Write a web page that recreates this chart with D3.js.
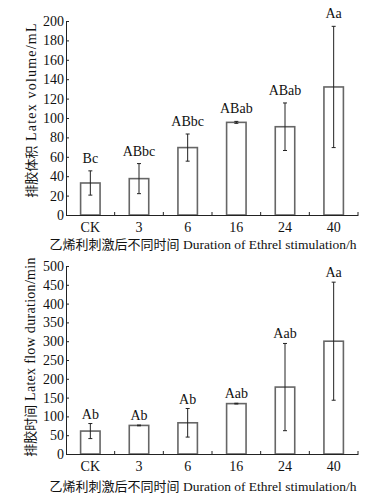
<!DOCTYPE html>
<html>
<head>
<meta charset="utf-8">
<script src="https://cdn.jsdelivr.net/npm/d3@7"></script>
<style>
  body { margin: 0; background: #fff; }
  text { font-family: "Liberation Serif", "Times New Roman", serif; }
  .cjk { font-family: "Noto Sans CJK SC", sans-serif; }
</style>
</head>
<body>
<div id="chart"></div>
<script>
const categories = ["CK", "3", "6", "16", "24", "40"];

// latex volume (mL)
const volumeMean = [33, 37.5, 69.5, 95.5, 91, 132];
const volumeErr = [12.5, 15.5, 14, 1, 24.5, 62.5];
const volumeLetters = ["Bc", "ABbc", "ABbc", "ABab", "ABab", "Aa"];
const volumeTicks = [0, 20, 40, 60, 80, 100, 120, 140, 160, 180, 200];

// latex flow duration (min)
const durationMean = [61, 76, 83, 134, 178, 300];
const durationErr = [20, 1, 38, 1, 116, 157];
const durationLetters = ["Ab", "Ab", "Ab", "Aab", "Aab", "Aa"];
const durationTicks = [0, 50, 100, 150, 200, 250, 300, 350, 400, 450, 500];

const width = 383;
const height = 503;

const svg = d3.select("#chart")
  .append("svg")
  .attr("width", width)
  .attr("height", height);

function drawPanel(opts) {
  const left = 66, right = 358;
  const g = svg.append("g");

  const x = d3.scaleBand()
    .domain(categories)
    .range([left, right])
    .paddingInner(0.6)
    .paddingOuter(0.3);

  const y = d3.scaleLinear()
    .domain([0, opts.max])
    .range([opts.bottom, opts.top]);

  // bars
  g.selectAll("rect.bar")
    .data(opts.mean)
    .join("rect")
    .attr("class", "bar")
    .attr("x", (d, i) => x(categories[i]))
    .attr("y", d => y(d))
    .attr("width", x.bandwidth())
    .attr("height", d => y(0) - y(d))
    .attr("fill", "#fff")
    .attr("stroke", "#666")
    .attr("stroke-width", 1.6);

  // error bars
  const eb = g.selectAll("g.err")
    .data(opts.mean)
    .join("g")
    .attr("class", "err");
  eb.append("line")
    .attr("x1", (d, i) => x(categories[i]) + x.bandwidth() / 2)
    .attr("x2", (d, i) => x(categories[i]) + x.bandwidth() / 2)
    .attr("y1", (d, i) => y(d - opts.err[i]))
    .attr("y2", (d, i) => y(d + opts.err[i]))
    .attr("stroke", "#222")
    .attr("stroke-width", 1);
  [-1, 1].forEach(s => {
    eb.append("line")
      .attr("x1", (d, i) => x(categories[i]) + x.bandwidth() / 2 - 2)
      .attr("x2", (d, i) => x(categories[i]) + x.bandwidth() / 2 + 2)
      .attr("y1", (d, i) => y(d + s * opts.err[i]))
      .attr("y2", (d, i) => y(d + s * opts.err[i]))
      .attr("stroke", "#222")
      .attr("stroke-width", 1);
  });

  // significance letters
  g.selectAll("text.sig")
    .data(opts.mean)
    .join("text")
    .attr("class", "sig")
    .attr("x", (d, i) => x(categories[i]) + x.bandwidth() / 2)
    .attr("y", (d, i) => y(d + opts.err[i]) - opts.gap)
    .attr("text-anchor", "middle")
    .attr("font-size", 14)
    .attr("fill", "#111")
    .text((d, i) => opts.letters[i]);

  // y axis
  const yAxis = g.append("g")
    .attr("transform", `translate(${left},0)`)
    .call(d3.axisLeft(y).tickValues(opts.ticks).tickSize(-3).tickPadding(2));
  yAxis.select(".domain").attr("stroke", "#222");
  yAxis.selectAll(".tick line").attr("stroke", "#222");
  yAxis.selectAll("text").attr("font-size", 14).attr("fill", "#111")
    .style("font-family", "Liberation Serif");

  // x axis
  const xAxis = g.append("g")
    .attr("transform", `translate(0,${opts.bottom})`)
    .call(d3.axisBottom(x).tickSize(0).tickPadding(7).tickSizeOuter(0));
  xAxis.select(".domain").attr("stroke", "#222");
  xAxis.selectAll("text").attr("font-size", 14).attr("fill", "#111")
    .style("font-family", "Liberation Serif");

  // small ticks between categories
  const step = x.step();
  const bounds = categories.map((c, i) => x(c) + x.bandwidth() / 2 + step / 2);
  g.selectAll("line.sep")
    .data(bounds)
    .join("line")
    .attr("class", "sep")
    .attr("x1", d => d).attr("x2", d => d)
    .attr("y1", opts.bottom).attr("y2", opts.bottom - 3)
    .attr("stroke", "#222");

  // y title
  const yt = g.append("text")
    .attr("transform", `translate(${opts.ylabelX},${opts.ylabelY}) rotate(-90)`)
    .attr("text-anchor", "middle")
    .attr("fill", "#111");
  yt.append("tspan").attr("class", "cjk").attr("font-size", 13).text(opts.ylabelCn);
  yt.append("tspan").attr("font-size", 14)
    .attr("letter-spacing", opts.ylabelSpacing)
    .text(" " + opts.ylabelEn);

  // x title
  const xt = g.append("text")
    .attr("x", 203)
    .attr("y", opts.xlabelY)
    .attr("text-anchor", "middle")
    .attr("fill", "#111");
  xt.append("tspan").attr("class", "cjk").attr("font-size", 13).text("乙烯利刺激后不同时间");
  xt.append("tspan").attr("font-size", 13.5).text(" Duration of Ethrel stimulation/h");
}

drawPanel({
  mean: volumeMean, err: volumeErr, letters: volumeLetters, ticks: volumeTicks,
  max: 200, top: 21, bottom: 215, gap: 8,
  ylabelX: 36, ylabelY: 110, ylabelCn: "排胶体积", ylabelEn: "Latex volume/mL",
  ylabelSpacing: 1.2, xlabelY: 249
});

drawPanel({
  mean: durationMean, err: durationErr, letters: durationLetters, ticks: durationTicks,
  max: 500, top: 266, bottom: 454, gap: 5,
  ylabelX: 35, ylabelY: 357, ylabelCn: "排胶时间", ylabelEn: "Latex flow duration/min",
  ylabelSpacing: 0.3, xlabelY: 491
});
</script>
</body>
</html>
